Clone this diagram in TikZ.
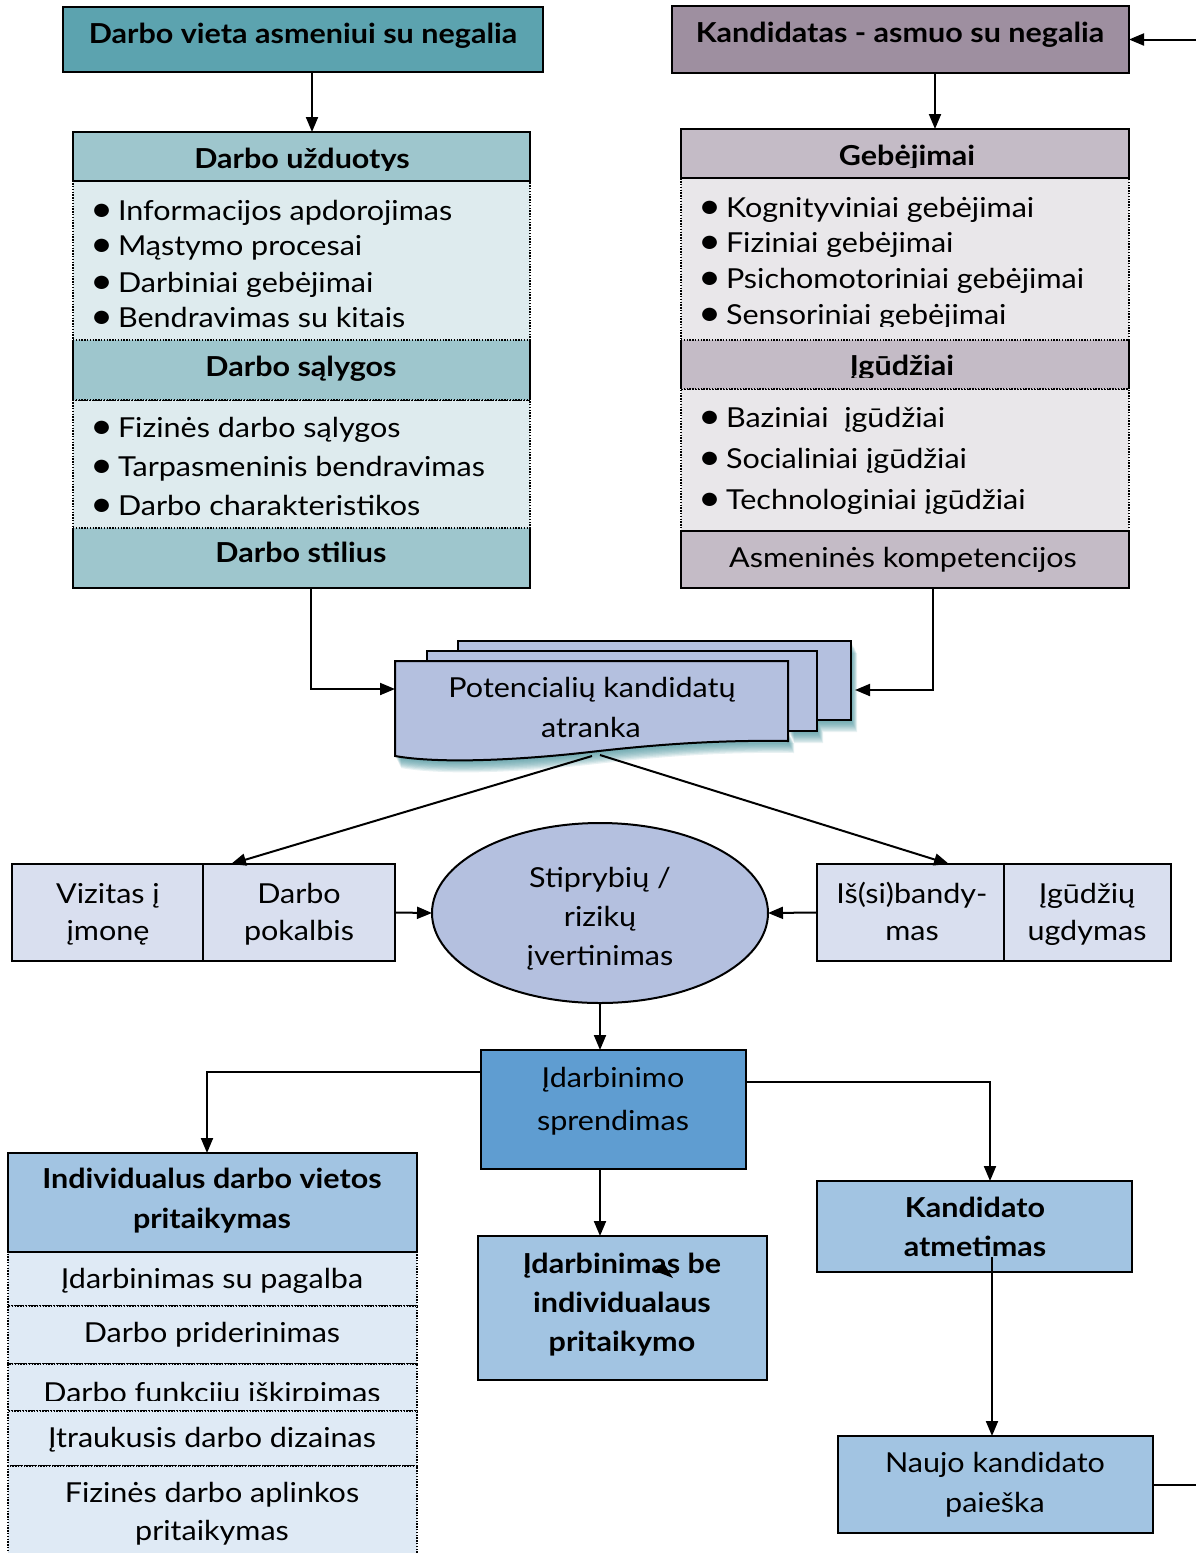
\documentclass[tikz,border=0pt]{standalone}
\usepackage{fontspec}
\setmainfont{Lato}[FakeStretch=1.11]
\usetikzlibrary{arrows.meta,calc,shapes.geometric}
\definecolor{cA}{HTML}{5CA3AF}
\definecolor{cLh}{HTML}{9EC6CD}
\definecolor{cLl}{HTML}{DEEBEE}
\definecolor{cB}{HTML}{9E8FA0}
\definecolor{cRh}{HTML}{C4BBC6}
\definecolor{cRl}{HTML}{E9E7EA}
\definecolor{cDoc}{HTML}{B4C0DF}
\definecolor{cPale}{HTML}{D9DFEF}
\definecolor{cMid}{HTML}{5F9DD1}
\definecolor{cLB}{HTML}{A2C4E2}
\definecolor{cRow}{HTML}{DFEAF5}
\definecolor{cShadow}{HTML}{3E8C96}
\tikzset{
  box/.style={rectangle, inner sep=0pt, outer sep=0pt, draw=black, line width=2pt},
  dbox/.style={rectangle, inner sep=0pt, outer sep=0pt, draw=black, line width=1.4pt, dash pattern=on 1.4pt off 1.4pt},
  fbox/.style={rectangle, inner sep=0pt, outer sep=0pt},
  arr/.style={draw=black, line width=2pt, -{Triangle[length=15pt,width=12pt]}},
  ln/.style={draw=black, line width=2pt},
  dl/.style={draw=black, line width=1.4pt, dash pattern=on 1.4pt off 1.4pt},
  tx/.style={inner sep=0pt, outer sep=0pt, anchor=base, font=\fontsize{27.5}{39}\selectfont},
  tb/.style={tx, font=\bfseries\fontsize{27.5}{39}\selectfont},
  tl/.style={tx, anchor=base west},
  page/.style={draw=black, line width=2pt, fill=cDoc},
}
\newcommand\Bx[6]{\node[#6, minimum width={(#4-#2)*1pt}, minimum height={(#5-#3)*1pt}] (#1) at ({(#2+#4)/2},{(#3+#5)/2}) {};}
\newcommand\bul[1]{\makebox[22pt][l]{\hspace{-6pt}\rlap{\raisebox{-1pt}{\scalebox{1.3}{\textbullet}}}}#1}
\begin{document}
\begin{tikzpicture}[x=1pt,y=-1pt]
\useasboundingbox (0,0) rectangle (1196,1553);

% ---------- top boxes
\Bx{A}{63}{7}{543}{72}{box,fill=cA}
\node[tb] (tA) at (303,43) {Darbo vieta asmeniui su negalia};
\Bx{B}{672}{6}{1129}{73}{box,fill=cB}
\node[tb] (tB) at (900,42) {Kandidatas - asmuo su negalia};

% ---------- left column
\Bx{Ll1}{73}{181}{530}{340}{dbox,fill=cLl}
\Bx{Ll2}{73}{400}{530}{528}{dbox,fill=cLl}
\Bx{Lh1}{73}{132}{530}{181}{box,fill=cLh}
\Bx{Lh2}{73}{340}{530}{400}{fbox,fill=cLh}
\Bx{Lh3}{73}{528}{530}{588}{fbox,fill=cLh}
\draw[ln] (Lh2.north west)--(Lh2.south west) (Lh2.north east)--(Lh2.south east);
\draw[dl] (Lh2.north west)--(Lh2.north east) (Lh2.south west)--(Lh2.south east);
\draw[ln] (Lh3.north west)--(Lh3.south west)--(Lh3.south east)--(Lh3.north east);
\draw[dl] (Lh3.north west)--(Lh3.north east);
\begin{scope}
\clip (73,132) rectangle (530,170);
\node[tb] (tLh1) at (302,168) {Darbo užduotys};
\end{scope}
\node[tl] (l11) at (96,220) {\bul{Informacijos apdorojimas}};
\node[tl] (l12) at (96,255) {\bul{Mąstymo procesai}};
\node[tl] (l13) at (96,292) {\bul{Darbiniai gebėjimai}};
\node[tl] (l14) at (96,327) {\bul{Bendravimas su kitais}};
\node[tb] (tLh2) at (301,376) {Darbo sąlygos};
\node[tl] (l21) at (96,437) {\bul{Fizinės darbo sąlygos}};
\node[tl] (l22) at (96,476) {\bul{Tarpasmeninis bendravimas}};
\node[tl] (l23) at (96,515) {\bul{Darbo charakteristikos}};
\node[tb] (tLh3) at (301,562) {Darbo stilius};

% ---------- right column
\Bx{Rl1}{681}{178}{1129}{340}{dbox,fill=cRl}
\Bx{Rl2}{681}{389}{1129}{531}{dbox,fill=cRl}
\Bx{Rh1}{681}{129}{1129}{178}{box,fill=cRh}
\Bx{Rh2}{681}{340}{1129}{389}{fbox,fill=cRh}
\Bx{Rh3}{681}{531}{1129}{588}{box,fill=cRh}
\draw[ln] (Rh2.north west)--(Rh2.south west) (Rh2.north east)--(Rh2.south east);
\draw[dl] (Rh2.north west)--(Rh2.north east) (Rh2.south west)--(Rh2.south east);
\begin{scope}
\clip (681,129) rectangle (1129,167);
\node[tb] (tRh1) at (907,165) {Gebėjimai};
\end{scope}
\node[tl] (r11) at (704,217) {\bul{Kognityviniai gebėjimai}};
\node[tl] (r12) at (704,252) {\bul{Fiziniai gebėjimai}};
\node[tl] (r13) at (704,288) {\bul{Psichomotoriniai gebėjimai}};
\begin{scope}
\clip (681,290) rectangle (1129,326);
\node[tl] (r14) at (704,324) {\bul{Sensoriniai gebėjimai}};
\end{scope}
\begin{scope}
\clip (681,340) rectangle (1129,377);
\node[tb] (tRh2) at (902,375) {Įgūdžiai};
\end{scope}
\node[tl] (r21) at (704,427) {\bul{Baziniai\ \ įgūdžiai}};
\node[tl] (r22) at (704,468) {\bul{Socialiniai įgūdžiai}};
\node[tl] (r23) at (704,509) {\bul{Technologiniai įgūdžiai}};
\node[tx] (tRh3) at (903,567) {Asmeninės kompetencijos};

% ---------- multi-document shape
\def\pgC{(458,641) rectangle (851,720)}
\def\pgB{(427,651) rectangle (817,731)}
\def\pgA{(395,661) -- (788,661) -- (788,741) .. controls (720,740) and (660,744) .. (590,752) .. controls (520,760) and (440,764) .. (395,756) -- cycle}
\foreach \k in {1,...,10}{
  \fill[cShadow, opacity=0.12, shift={({0.6*\k},{1.2*\k})}] \pgC \pgB \pgA;
}
\path[page] \pgC;
\path[page] \pgB;
\path[page] \pgA;
\node[tx] (pka1) at (592,697) {Potencialių kandidatų};
\node[tx] (pka2) at (591,737) {atranka};
\coordinate (docL) at (395,689);
\coordinate (docR) at (855,690);
\coordinate (docB1) at (592,756);
\coordinate (docB2) at (600,755);

% ---------- middle row
\Bx{viz}{12}{864}{203}{961}{box,fill=cPale}
\Bx{pok}{203}{864}{395}{961}{box,fill=cPale}
\node[tx] (viz1) at (108,903) {Vizitas į};
\node[tx] (viz2) at (108,940) {įmonę};
\node[tx] (pok1) at (299,903) {Darbo};
\node[tx] (pok2) at (299,940) {pokalbis};
\node[ellipse, draw=black, line width=2pt, fill=cDoc, minimum width=336pt, minimum height=180pt, inner sep=0pt, outer sep=0pt] (ell) at (600,913) {};
\node[tx] (ell1) at (600,887) {Stiprybių /};
\node[tx] (ell2) at (600,926) {rizikų};
\node[tx] (ell3) at (600,965) {įvertinimas};
\Bx{isb}{817}{864}{1004}{961}{box,fill=cPale}
\Bx{igu}{1004}{864}{1171}{961}{box,fill=cPale}
\node[tx] (isb1) at (912,903) {Iš(si)bandy-};
\node[tx] (isb2) at (912,940) {mas};
\node[tx] (igu1) at (1087,903) {Įgūdžių};
\node[tx] (igu2) at (1087,940) {ugdymas};

% ---------- bottom
\Bx{sp}{481}{1050}{746}{1169}{box,fill=cMid}
\node[tx] (sp1) at (613,1087) {Įdarbinimo};
\node[tx] (sp2) at (613,1130) {sprendimas};

\Bx{r1}{8}{1252}{417}{1306}{dbox,fill=cRow}
\Bx{r2}{8}{1306}{417}{1364}{dbox,fill=cRow}
\Bx{r3}{8}{1364}{417}{1411}{dbox,fill=cRow}
\Bx{r4}{8}{1411}{417}{1466}{dbox,fill=cRow}
\Bx{r5}{8}{1466}{417}{1575}{dbox,fill=cRow}
\Bx{ind}{8}{1153}{417}{1252}{box,fill=cLB}
\node[tb] (ind1) at (212,1188) {Individualus darbo vietos};
\node[tb] (ind2) at (212,1228) {pritaikymas};
\node[tx] (r1t) at (212,1288) {Įdarbinimas su pagalba};
\node[tx] (r2t) at (212,1342) {Darbo priderinimas};
\begin{scope}
\clip (8,1364) rectangle (417,1400);
\node[tx] (r3t) at (212,1402) {Darbo funkcijų iškirpimas};
\end{scope}
\node[tx] (r4t) at (212,1447) {Įtraukusis darbo dizainas};
\node[tx] (r5a) at (212,1502) {Fizinės darbo aplinkos};
\node[tx] (r5b) at (212,1540) {pritaikymas};

\Bx{be}{478}{1236}{767}{1380}{box,fill=cLB}
\node[tb] (be1) at (622,1273) {Įdarbinimas be};
\node[tb] (be2) at (622,1312) {individualaus};
\node[tb] (be3) at (622,1351) {pritaikymo};

\Bx{ka}{817}{1181}{1132}{1272}{box,fill=cLB}
\node[tb] (ka1) at (975,1217) {Kandidato};
\node[tb] (ka2) at (975,1256) {atmetimas};

\Bx{nk}{838}{1436}{1153}{1533}{box,fill=cLB}
\node[tx] (nk1) at (995,1472) {Naujo kandidato};
\node[tx] (nk2) at (995,1512) {paieška};

% stray arrowhead
\fill[black] (673,1278) -- (655,1271) -- (663,1262) -- cycle;

% ---------- connectors
\draw[arr] ([xshift=9pt]A.south) -- ([xshift=9pt]A.south |- Lh1.north);
\draw[arr] ([xshift=34.5pt]B.south) -- ([xshift=34.5pt]B.south |- Rh1.north);
\draw[arr] ([xshift=70pt]B.east) -- (B.east);
\draw[arr] ([xshift=9.5pt]Lh3.south) |- (docL);
\draw[arr] ([xshift=28pt]Rh3.south) |- (docR);
\draw[arr] (docB1) -- ([xshift=28pt]pok.north west);
\draw[arr] (docB2) -- ([xshift=132pt]isb.north west);
\draw[arr] (pok.east) -- (ell.west);
\draw[arr] (isb.west) -- (ell.east);
\draw[arr] (ell.south) -- (ell.south |- sp.north);
\draw[arr] ([yshift=37.5pt]sp.west) -| ([xshift=-5.5pt]ind.north);
\draw[arr] ([yshift=27.5pt]sp.east) -| ([xshift=15.5pt]ka.north);
\draw[arr] (ell.south |- sp.south) -- (ell.south |- be.north);
\coordinate (kaIn) at ([xshift=17.5pt,yshift=-30.5pt]ka.center);
\draw[arr] (kaIn) -- (kaIn |- nk.north);
\draw[ln] (nk.east) -- ++(50,0);
\end{tikzpicture}
\end{document}
